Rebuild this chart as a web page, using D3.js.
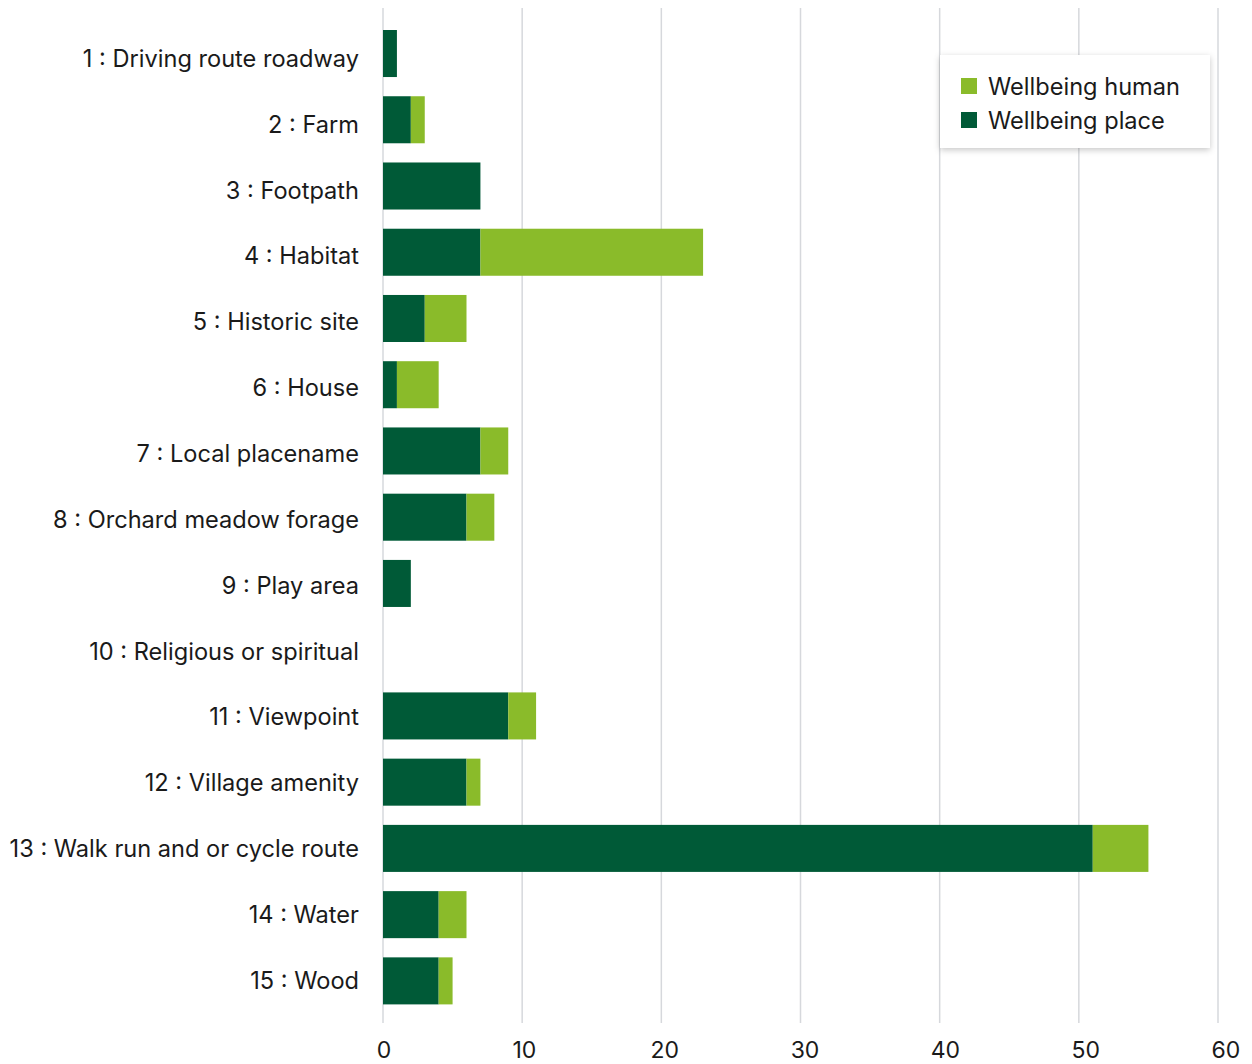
<!DOCTYPE html>
<html>
<head>
<meta charset="utf-8">
<script src="https://cdn.jsdelivr.net/npm/d3@7"></script>
<style>
  html, body { margin: 0; padding: 0; background: #fff; }
  svg { display: block; }
  text { font-family: Inter, "Noto Sans", sans-serif; fill: #1a1a1a; }
</style>
</head>
<body>
<svg id="chart" width="1252" height="1064"></svg>
<script>
// Categories and series values
const categories = [
  "1 : Driving route roadway",
  "2 : Farm",
  "3 : Footpath",
  "4 : Habitat",
  "5 : Historic site",
  "6 : House",
  "7 : Local placename",
  "8 : Orchard meadow forage",
  "9 : Play area",
  "10 : Religious or spiritual",
  "11 : Viewpoint",
  "12 : Village amenity",
  "13 : Walk run and or cycle route",
  "14 : Water",
  "15 : Wood"
];
const wellbeingPlace = [1, 2, 7, 7, 3, 1, 7, 6, 2, 0, 9, 6, 51, 4, 4];
const wellbeingHuman = [0, 1, 0, 16, 3, 3, 2, 2, 0, 0, 2, 1, 4, 2, 1];
const xTicks = [0, 10, 20, 30, 40, 50, 60];
const seriesNames = ["Wellbeing human", "Wellbeing place"];
const colors = { "Wellbeing place": "#005a37", "Wellbeing human": "#8abb2a" };

const rows = categories.map((c, i) => ({
  category: c,
  "Wellbeing place": wellbeingPlace[i],
  "Wellbeing human": wellbeingHuman[i]
}));

const svg = d3.select("#chart");

const x = d3.scaleLinear().domain([0, 60]).range([383, 1218]);
// Tick labels drift slightly right of their gridlines
const xLabel = d3.scaleLinear().domain([0, 60]).range([384, 1226]);
const y = d3.scaleBand().domain(categories).range([20.4, 1014]).paddingInner(0.29).paddingOuter(0.145);
// Category labels sit on their own evenly spaced rows
const yLabel = d3.scalePoint().domain(categories).range([58.3, 980.3]);

// Vertical gridlines
svg.append("g")
  .selectAll("line")
  .data(xTicks)
  .join("line")
  .attr("x1", d => x(d)).attr("x2", d => x(d))
  .attr("y1", 8).attr("y2", 1023)
  .attr("stroke", "#d6d8dc").attr("stroke-width", 1.5);

// Stacked bars: place first, human on top
const stack = d3.stack().keys(["Wellbeing place", "Wellbeing human"]);
const layers = stack(rows);

svg.append("g")
  .selectAll("g")
  .data(layers)
  .join("g")
  .attr("fill", d => colors[d.key])
  .selectAll("rect")
  .data(d => d)
  .join("rect")
  .attr("x", d => x(d[0]))
  .attr("y", d => y(d.data.category))
  .attr("width", d => Math.max(0, x(d[1]) - x(d[0])))
  .attr("height", y.bandwidth());

// Category labels
svg.append("g")
  .selectAll("text")
  .data(categories)
  .join("text")
  .attr("x", 359)
  .attr("y", d => yLabel(d))
  .attr("text-anchor", "end")
  .attr("dominant-baseline", "central")
  .attr("font-size", 23.6)
  .text(d => d);

// X tick labels
svg.append("g")
  .selectAll("text")
  .data(xTicks)
  .join("text")
  .attr("x", d => xLabel(d))
  .attr("y", 1050)
  .attr("text-anchor", "middle")
  .attr("dominant-baseline", "central")
  .attr("font-size", 23)
  .text(d => d);

// Legend
const defs = svg.append("defs");
const f = defs.append("filter").attr("id", "shadow").attr("x", "-10%").attr("y", "-20%").attr("width", "120%").attr("height", "150%");
f.append("feDropShadow").attr("dx", 0).attr("dy", 2).attr("stdDeviation", 3).attr("flood-color", "#000").attr("flood-opacity", 0.22);

const legend = svg.append("g").attr("transform", "translate(940,55)");
legend.append("rect")
  .attr("width", 270).attr("height", 93)
  .attr("fill", "#fff")
  .attr("filter", "url(#shadow)");
const items = legend.selectAll("g.item")
  .data(seriesNames)
  .join("g")
  .attr("class", "item")
  .attr("transform", (d, i) => `translate(21,${31 + i * 34})`);
items.append("rect")
  .attr("x", 0).attr("y", -8).attr("width", 16).attr("height", 16)
  .attr("fill", d => colors[d]);
items.append("text")
  .attr("x", 27).attr("y", 0)
  .attr("dominant-baseline", "central")
  .attr("font-size", 23.6)
  .text(d => d);
</script>
</body>
</html>
